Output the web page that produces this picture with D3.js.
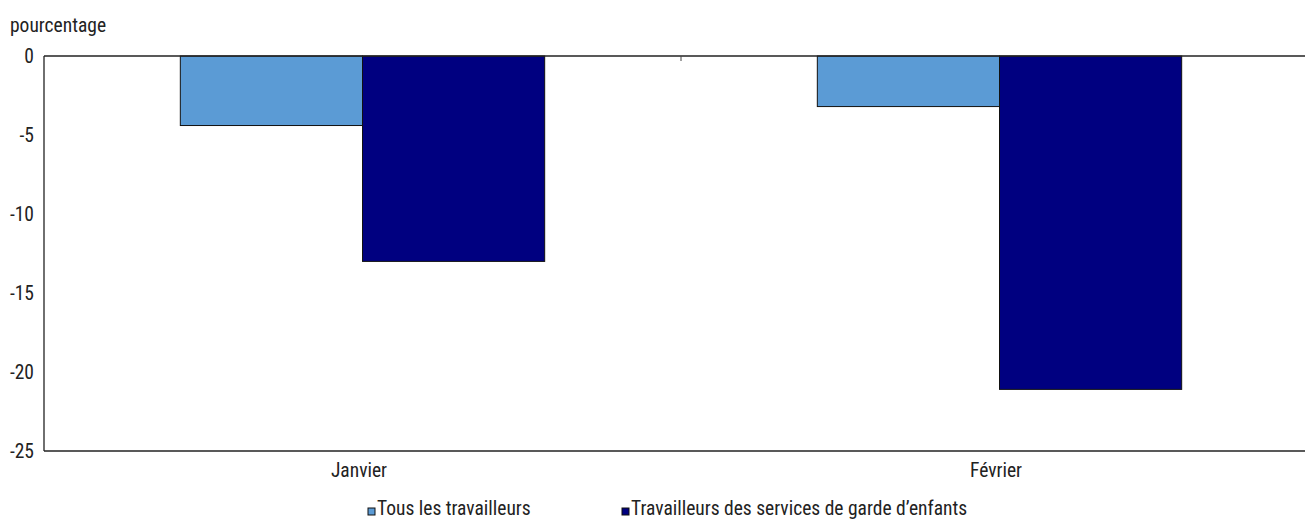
<!DOCTYPE html>
<html>
<head>
<meta charset="utf-8">
<script src="https://cdn.jsdelivr.net/npm/d3@7.9.0/dist/d3.min.js"></script>
<style>
  body { margin: 0; background: #fff; }
  svg { display: block; font-family: 'Liberation Sans Narrow', 'Roboto Condensed', 'DejaVu Sans Condensed', sans-serif; }
  text { fill: #222; }
</style>
</head>
<body>
<svg id="chart" width="1305" height="520"></svg>
<script>
const categories = ['Janvier', 'Février'];
const seriesNames = ['Tous les travailleurs', 'Travailleurs des services de garde d’enfants'];
const tousValues = [-4.4, -3.2];
const gardeValues = [-13.0, -21.1];
const yTicks = [0, -5, -10, -15, -20, -25];
const colors = ['#5b9bd5', '#000080'];

const svg = d3.select('#chart');
const plotLeft = 44, plotRight = 1318, plotTop = 56, plotBottom = 451;
const fs = 19.5;

const x = d3.scaleBand().domain(categories).range([plotLeft, plotRight]);
const groupW = x.bandwidth() * 0.572;
const inner = d3.scaleBand().domain([0, 1]).range([0, groupW]);
const groupOffset = (x.bandwidth() - groupW) / 2;
const y = d3.scaleLinear().domain([0, -25]).range([plotTop, plotBottom]);

const data = categories.map((c, i) => ({ cat: c, values: [tousValues[i], gardeValues[i]] }));

// bars
data.forEach(d => {
  d.values.forEach((v, j) => {
    svg.append('rect')
      .attr('x', x(d.cat) + groupOffset + inner(j))
      .attr('y', y(0))
      .attr('width', inner.bandwidth())
      .attr('height', y(v) - y(0))
      .attr('fill', colors[j])
      .attr('stroke', '#111')
      .attr('stroke-width', 1);
  });
});

// axes frame
svg.append('line').attr('x1', plotLeft).attr('x2', plotLeft).attr('y1', plotTop).attr('y2', plotBottom)
  .attr('stroke', '#222').attr('stroke-width', 1.3);
svg.append('line').attr('x1', plotLeft).attr('x2', 1305).attr('y1', plotBottom).attr('y2', plotBottom)
  .attr('stroke', '#222').attr('stroke-width', 1.3);
svg.append('line').attr('x1', plotLeft).attr('x2', 1305).attr('y1', y(0)).attr('y2', y(0))
  .attr('stroke', '#222').attr('stroke-width', 1.3);

// category divider tick on zero line
svg.append('line').attr('x1', x('Février')).attr('x2', x('Février'))
  .attr('y1', y(0)).attr('y2', y(0) + 5).attr('stroke', '#444').attr('stroke-width', 1);

// y tick labels
yTicks.forEach(t => {
  svg.append('text').attr('x', 34).attr('y', y(t)).attr('dy', '0.35em')
    .attr('text-anchor', 'end').attr('font-size', fs).text(t);
});

svg.append('text').attr('x', 10).attr('y', 32).attr('font-size', fs).text('pourcentage');

// category labels
categories.forEach(c => {
  svg.append('text').attr('x', x(c) + x.bandwidth() / 2 - 3.5).attr('y', 477)
    .attr('text-anchor', 'middle').attr('font-size', fs).text(c);
});

// legend
const legendX = [368, 622];
seriesNames.forEach((s, i) => {
  svg.append('rect').attr('x', legendX[i]).attr('y', 508).attr('width', 7).attr('height', 7)
    .attr('fill', colors[i]).attr('stroke', '#111').attr('stroke-width', 1);
  svg.append('text').attr('x', legendX[i] + 9).attr('y', 515).attr('font-size', fs).text(s);
});
</script>
</body>
</html>
